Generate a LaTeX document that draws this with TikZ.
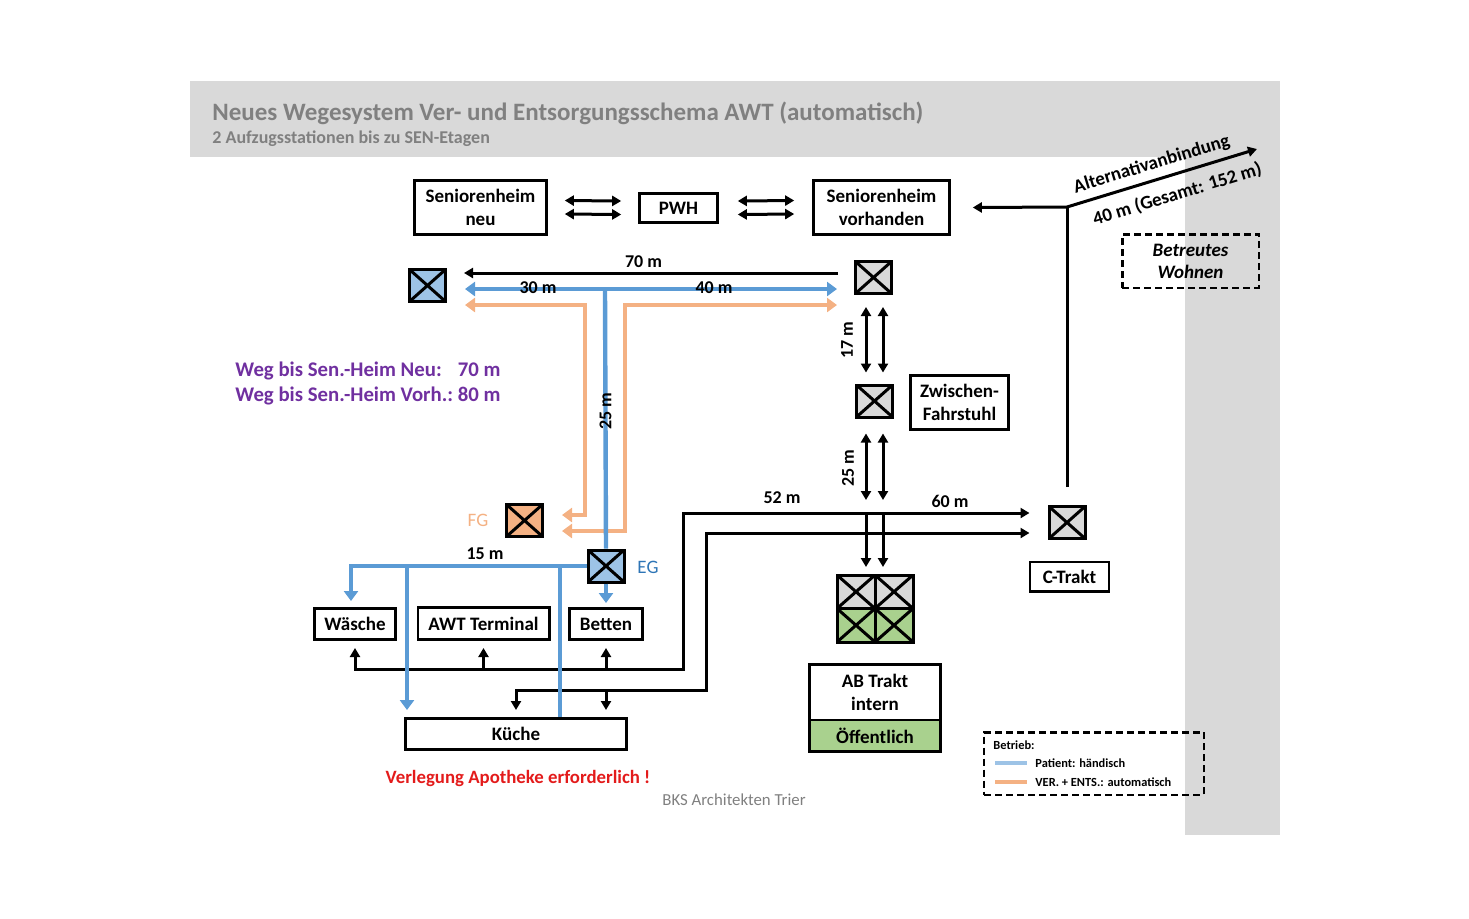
\documentclass[tikz,border=0pt]{standalone}
\usepackage{fontspec}
\setmainfont{Carlito}
\usetikzlibrary{arrows.meta,positioning}

\definecolor{bandgray}{HTML}{D9D9D9}
\definecolor{titlegray}{HTML}{808080}
\definecolor{liftgray}{HTML}{D9D9D9}
\definecolor{liftblue}{HTML}{9DC3E6}
\definecolor{liftorange}{HTML}{F4B183}
\definecolor{liftgreen}{HTML}{A9D18E}
\definecolor{lineblue}{HTML}{5B9BD5}
\definecolor{lineorange}{HTML}{F4B183}
\definecolor{textblue}{HTML}{2E75B6}
\definecolor{textpurple}{HTML}{7030A0}
\definecolor{textred}{HTML}{E31B1B}

\begin{document}
\begin{tikzpicture}[x=0.5pt,y=-0.5pt]
\tikzset{
  every node/.style={inner sep=0pt, font=\bfseries\fontsize{9}{11}\selectfont},
  box/.style={draw, line width=1.3pt, fill=white, align=center, font=\bfseries\fontsize{9.5}{11.5}\selectfont},
  lift/.style={draw, line width=1.5pt, minimum width=18pt, minimum height=16pt,
    path picture={\draw[line width=1.5pt] (path picture bounding box.north west) -- (path picture bounding box.south east)
      (path picture bounding box.north east) -- (path picture bounding box.south west);}},
  blk/.style={line width=1.5pt, >={Triangle[length=4.5pt,width=5pt]}},
  blu/.style={line width=2.2pt, draw=lineblue, >={Triangle[length=5pt,width=7pt]}},
  org/.style={line width=2.2pt, draw=lineorange, >={Triangle[length=5pt,width=7pt]}},
  dashbox/.style={draw, line width=1.2pt, dash pattern=on 3.5pt off 2pt},
  legtext/.style={anchor=west, font=\bfseries\fontsize{6.2}{7}\selectfont},
}
\useasboundingbox (0,0) rectangle (1469,918);

% Hintergrund und Titel
\fill[bandgray] (190,81) rectangle (1280,157);
\fill[bandgray] (1185,157) rectangle (1280,835);
\node[anchor=west, text=titlegray, font=\bfseries\fontsize{12.5}{14}\selectfont] (title) at (212,113) {Neues Wegesystem Ver- und Entsorgungsschema AWT (automatisch)};
\node[anchor=west, text=titlegray, font=\bfseries\fontsize{9}{10}\selectfont] (subtitle) at (212,139) {2 Aufzugsstationen bis zu SEN-Etagen};

% Gebaeude
\node[box, minimum width=66pt, minimum height=27pt] (senneu) at (480.5,207.5) {Seniorenheim\\neu};
\node[box, minimum width=39pt, minimum height=14.7pt] (pwh) at (678.5,208) {PWH};
\node[box, minimum width=68pt, minimum height=27pt] (senvorh) at (881.5,207.5) {Seniorenheim\\vorhanden};
\node[box, minimum width=49pt, minimum height=27pt] (zwischen) at (959.5,402.5) {Zwischen-\\Fahrstuhl};
\node[box, minimum width=39.5pt, minimum height=14.7pt] (ctrakt) at (1069.5,576.5) {C-Trakt};
\node[box, minimum width=40.7pt, minimum height=15.7pt] (waesche) at (355,624) {Wäsche};
\node[box, minimum width=65.7pt, minimum height=16.2pt] (awt) at (483.5,623.5) {AWT Terminal};
\node[box, minimum width=36.7pt, minimum height=15.7pt] (betten) at (606,624) {Betten};
\node[box, minimum width=110.7pt, minimum height=15.7pt] (kueche) at (516,734) {Küche};
\node[box, minimum width=65.7pt, minimum height=27.85pt] (abintern) at (875,692.15) {AB Trakt\\intern};
\node[box, fill=liftgreen, minimum width=65.7pt, minimum height=15.85pt] (aboeff) at (875,735.85) {Öffentlich};
\node[dashbox, align=center, font=\bfseries\itshape\fontsize{9.5}{11}\selectfont, minimum width=68.2pt, minimum height=26.7pt] (betreut) at (1190.5,261) {Betreutes\\Wohnen};

% Aufzuege
\node[lift, fill=liftblue] (liftneu) at (427.5,285.5) {};
\node[lift, fill=liftgray] (liftvorh) at (873.5,277.5) {};
\node[lift, fill=liftgray] (liftzw) at (874.5,401) {};
\node[lift, fill=liftorange] (liftfg) at (524.5,520.5) {};
\node[lift, fill=liftblue] (lifteg) at (606,566) {};
\node[lift, fill=liftgray] (liftc) at (1067,522.5) {};
\node[lift, fill=liftgray, minimum width=19pt, minimum height=16.75pt] (abnw) at (856,591.75) {};
\node[lift, fill=liftgray, minimum width=19pt, minimum height=16.75pt] (abne) at (894,591.75) {};
\node[lift, fill=liftgreen, minimum width=19pt, minimum height=16.75pt] (absw) at (856,625.25) {};
\node[lift, fill=liftgreen, minimum width=19pt, minimum height=16.75pt] (abse) at (894,625.25) {};
\node[text=liftorange, font=\fontsize{9.5}{11}\selectfont] (fg) at (478,520) {FG};
\node[text=textblue, font=\fontsize{9.5}{11}\selectfont] (eg) at (648,567) {EG};

% Texte
\node[anchor=west, text=textpurple, font=\bfseries\fontsize{10.4}{12.5}\selectfont] (wege) at (235,383.5)
  {\begin{tabular}{@{}l@{\ }l@{}}Weg bis Sen.-Heim Neu: & 70 m\\ Weg bis Sen.-Heim Vorh.: & 80 m\end{tabular}};
\node[text=textred, font=\bfseries\fontsize{9.4}{11}\selectfont] (apotheke) at (518,778) {Verlegung Apotheke erforderlich !};
\node[text=titlegray, font=\fontsize{8.4}{9}\selectfont] (bks) at (734,800) {BKS Architekten Trier};

% Legende
\node[dashbox, minimum width=109.8pt, minimum height=31.2pt] (legende) at (1094,763.5) {};
\node[legtext] (betrieb) at (993,745) {Betrieb:};
\node[legtext] (patient) at (1035,763) {Patient: händisch};
\node[legtext] (verents) at (1035,782) {VER. + ENTS.: automatisch};
\draw[line width=2pt, liftblue] ([xshift=-20pt]patient.west) -- ([xshift=-4pt]patient.west);
\draw[line width=2pt, liftorange] ([xshift=-20pt]verents.west) -- ([xshift=-4pt]verents.west);

% Doppelpfeile oben
\draw[blk,<->] ([xshift=8.5pt,yshift=3.5pt]senneu.east) -- ([xshift=-8.5pt,yshift=3.5pt]pwh.west);
\draw[blk,<->] ([xshift=8.5pt,yshift=-3.25pt]senneu.east) -- ([xshift=-8.5pt,yshift=-3.25pt]pwh.west);
\draw[blk,<->] ([xshift=9.5pt,yshift=3.5pt]pwh.east) -- ([xshift=-9pt,yshift=3.5pt]senvorh.west);
\draw[blk,<->] ([xshift=9.5pt,yshift=-3.25pt]pwh.east) -- ([xshift=-9pt,yshift=-3.25pt]senvorh.west);

% 70 m
\coordinate (end70) at (464,273);
\draw[blk,->] ([xshift=-8pt,yshift=2.25pt]liftvorh.west) -- (end70) node[pos=0.52, above=2pt] {70 m};

% orange Wege
\coordinate (orgwest) at (465,305);
\coordinate (orgeast) at (837,305);
\coordinate (orgl) at (585,305);
\coordinate (orgr) at (625,305);
\coordinate (fgin1) at (562,515);
\coordinate (fgin2) at (562,531);
\draw[org,<->] (fgin1) -| (orgl) -- (orgwest);
\draw[org,<->] (fgin2) -| (orgr) -- (orgeast);

% blaue Wege oben
\coordinate (bluwest) at (465,289);
\coordinate (blueast) at (837,289);
\coordinate (blutee) at (605,289);
\draw[blu,<->] (bluwest) -- (blueast);
\node (m30) at (538,288) {30 m};
\node (m40) at (714,288) {40 m};
\draw[blu] (blutee) -- (lifteg.north) node[pos=0.47, rotate=90, text=black] {25 m};

% Fahrstuhl-Achse
\coordinate (split) at (874.5,513);
\draw[blk,<->] ([xshift=-3.75pt,yshift=-6pt]liftvorh.south) -- ([xshift=-4.25pt,yshift=5.5pt]liftzw.north);
\draw[blk,<->] ([xshift=4.75pt,yshift=-6pt]liftvorh.south) -- ([xshift=4.25pt,yshift=5.5pt]liftzw.north);
\node[rotate=90] (m17) at (847,340) {17 m};
\draw[blk,<->] ([xshift=-4.25pt,yshift=-7.5pt]liftzw.south) -- ([xshift=-4.25pt,yshift=6.5pt]split);
\draw[blk,<->] ([xshift=4.25pt,yshift=-7.5pt]liftzw.south) -- ([xshift=4.25pt,yshift=6.5pt]split);
\node[rotate=90] (m25b) at (848,468) {25 m};
\draw[blk,->] ([xshift=-4.25pt]split) -- ([xshift=-4.25pt,yshift=-27pt]split);
\draw[blk,->] ([xshift=4.25pt]split) -- ([xshift=4.25pt,yshift=-27pt]split);

% schwarze Wege unten
\coordinate (knickA) at (683,669);
\coordinate (knickB) at (706,690);
\coordinate (ostA) at ([xshift=-9pt,yshift=4.75pt]liftc.west);
\coordinate (ostB) at ([xshift=-9pt,yshift=-5.25pt]liftc.west);
\coordinate (kuetip) at ([yshift=3.5pt]kueche.north);
\draw[blk,<->] ([yshift=-3.5pt]waesche.south) |- (knickA) |- (ostA);
\draw[blk,->] (awt.south |- knickA) -- ([yshift=-3.5pt]awt.south);
\draw[blk,->] (betten.south |- knickA) -- ([yshift=-3.5pt]betten.south);
\draw[blk,<->] (kuetip) |- (knickB) |- (ostB);
\draw[blk,->] (betten.south |- knickB) -- (betten.south |- kuetip);
\node (m52) at (782,498) {52 m};
\node (m60) at (950,501) {60 m};

% blaue Wege unten
\coordinate (blu1) at (407,566);
\coordinate (blu2) at (560,566);
\draw[blu,->] (lifteg.west) -| ([xshift=-2pt,yshift=3pt]waesche.north);
\draw[blu,->] (blu1) -- (blu1 |- kuetip);
\draw[blu] (blu2) -- (blu2 |- kueche.north);
\draw[blu,->] (lifteg.south) -- ([yshift=2pt]betten.north);
\node (m15) at (485,554) {15 m};

% Alternativanbindung
\coordinate (abzweig) at (1067,207);
\coordinate (altziel) at (1257,149);
\draw[blk] ([yshift=9pt]liftc.north) -- (abzweig);
\draw[blk,->] (abzweig) -- ([xshift=11pt]senvorh.east);
\draw[blk,->] (abzweig) -- (altziel)
  node[pos=0.47, above=3pt, sloped, font=\bfseries\fontsize{9.5}{11}\selectfont] {Alternativanbindung}
  node[pos=0.55, below=5pt, sloped, font=\bfseries\fontsize{9.5}{11}\selectfont] {40 m (Gesamt: 152 m)};
\end{tikzpicture}
\end{document}
